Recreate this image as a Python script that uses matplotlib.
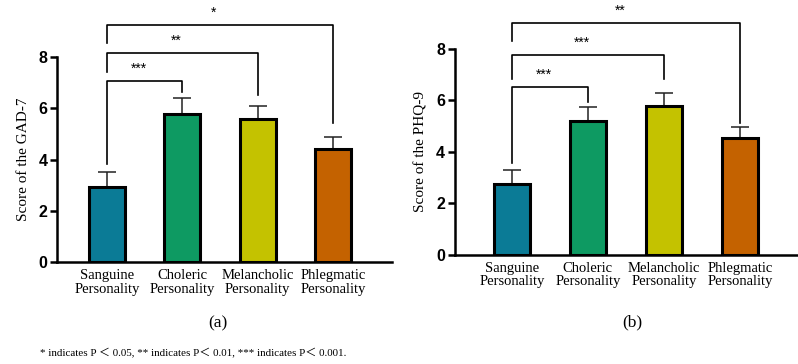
import matplotlib.pyplot as plt

# --- data --- #
categories = ["Sanguine\nPersonality", "Choleric\nPersonality",
              "Melancholic\nPersonality", "Phlegmatic\nPersonality"]
colors = ["#0b7b96", "#0e9a62", "#c4c200", "#c46200"]

gad_mean = [2.95, 5.78, 5.58, 4.42]
gad_err = [0.57, 0.62, 0.52, 0.46]
phq_mean = [2.76, 5.22, 5.79, 4.55]
phq_err = [0.54, 0.53, 0.50, 0.42]

# brackets: (i, j, top, left leg bottom, right leg bottom, label)
gad_brackets = [(0, 1, 7.07, 3.83, 6.64, "***"),
                (0, 2, 8.16, 7.42, 6.52, "**"),
                (0, 3, 9.26, 8.55, 5.43, "*")]
phq_brackets = [(0, 1, 6.52, 3.57, 5.94, "***"),
                (0, 2, 7.77, 6.83, 6.83, "***"),
                (0, 3, 9.0, 8.3, 5.13, "**")]

serif = "Liberation Serif"
sans = "Liberation Sans"

fig = plt.figure(figsize=(7.98, 3.64), dpi=100)


def draw_panel(ax, means, errs, brackets, ylabel, xlim):
    x = list(range(len(means)))
    ax.bar(x, means, width=0.48, color=colors, edgecolor="black", linewidth=2.2, zorder=2)
    ax.errorbar(x, means, yerr=[[0] * len(errs), errs], fmt="none", ecolor="#222222",
                elinewidth=1.1, capsize=6.5, capthick=1.1, zorder=1)
    ax.set_xlim(*xlim)
    ax.set_ylim(0, 8)
    ax.set_yticks([0, 2, 4, 6, 8])
    ax.set_xticks(x)
    ax.set_xticklabels(categories, fontfamily=serif, fontsize=10.5, linespacing=1.05)
    for lab in ax.get_yticklabels():
        lab.set_fontfamily(sans)
        lab.set_fontweight("bold")
        lab.set_fontsize(11.5)
    ax.tick_params(axis="y", direction="out", length=5, width=1.8, pad=2)
    ax.tick_params(axis="x", direction="in", length=6, width=1.5, pad=5)
    ax.set_ylabel(ylabel, fontfamily=serif, fontsize=11, labelpad=6)
    for s in ["top", "right"]:
        ax.spines[s].set_visible(False)
    for s in ["left", "bottom"]:
        ax.spines[s].set_linewidth(1.8)
    for i, j, top, lb, rb, lab in brackets:
        ax.plot([i, i, j, j], [lb, top, top, rb], color="black", lw=1.2, clip_on=False)
        ax.text((i + j) / 2 - 0.08, top + 0.2, lab, ha="center", va="bottom",
                fontfamily=sans, fontsize=10, clip_on=False)


ax1 = fig.add_axes([0.0714, 0.280, 0.42, 0.563])
draw_panel(ax1, gad_mean, gad_err, gad_brackets, "Score of the GAD-7", (-0.66, 3.78))

ax2 = fig.add_axes([0.570, 0.2995, 0.4286, 0.566])
draw_panel(ax2, phq_mean, phq_err, phq_brackets, "Score of the PHQ-9", (-0.75, 3.75))

fig.text(218 / 798, 1 - 323 / 364, "(a)", ha="center", va="center", fontfamily=serif, fontsize=12.5)
fig.text(632 / 798, 1 - 322 / 364, "(b)", ha="center", va="center", fontfamily=serif, fontsize=12.5)
fig.text(40 / 798, 1 - 353 / 364,
         "* indicates P \uff1c 0.05, ** indicates P\uff1c 0.01, *** indicates P\uff1c 0.001.",
         ha="left", va="center", fontfamily=[serif, "Noto Sans CJK SC"], fontsize=7.9)

fig.savefig("out.png", dpi=100)
